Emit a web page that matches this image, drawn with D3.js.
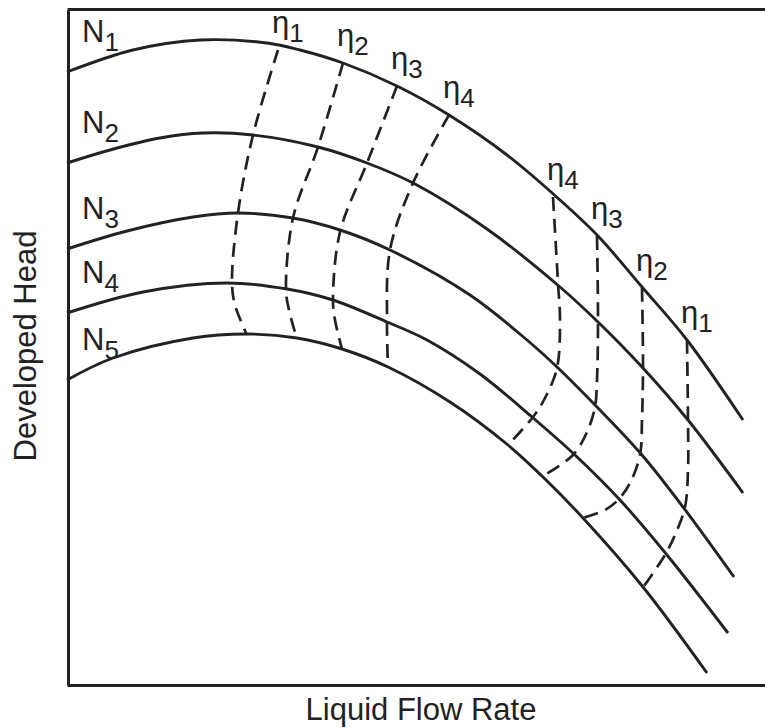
<!DOCTYPE html>
<html>
<head>
<meta charset="utf-8">
<title>Developed head vs liquid flow rate</title>
<style>
  body { margin: 0; background: #fff; }
  svg { display: block; font-family: "Liberation Sans", Arial, sans-serif; }
  .frame path { stroke: #222; stroke-width: 3; }
  .speed { fill: none; stroke: #222; stroke-width: 2.9; }
  .eff { fill: none; stroke: #222; stroke-width: 2.7; stroke-dasharray: 14, 8; }
  .lbl { fill: #222; font-size: 31px; }
  .lbl .sub { font-size: 26px; }
</style>
<script src="https://d3js.org/d3.v7.min.js"></script>
</head>
<body>
<script>
// head curves at five speeds, [flow, head]
const curveN1 = [[0,613],[66,635],[133,645],[200,642],[233,635],[276,622],[330,599],[382,570],[440,530],[493,485],[531,449],[575,398],[620,345],[676,265]];
const curveN2 = [[0,522],[43,535],[93,547],[136,552],[186,550],[251,538],[300,522],[348,501],[420,456],[493,398],[531,363],[575,318],[621,265],[676,192]];
const curveN3 = [[0,436],[60,454],[126,468],[171,472],[226,467],[273,455],[323,435],[403,390],[460,345],[490,318],[530,278],[575,230],[616,178],[667,108]];
const curveN4 = [[0,372],[76,393],[160,402],[220,396],[266,385],[320,363],[360,345],[413,311],[465,268],[508,230],[553,185],[600,130],[661,52]];
const curveN5 = [[0,305],[46,327],[126,347],[180,351],[230,347],[275,336],[321,318],[383,283],[441,240],[476,208],[516,167],[576,98],[640,12]];
const speedCurves = [curveN1, curveN2, curveN3, curveN4, curveN5];
const speedNames = ["1", "2", "3", "4", "5"];

// constant efficiency lines, low-flow side and high-flow side
const effLeft1 = [[211,635],[186,550],[171,472],[165,402],[168,380],[180,350]];
const effLeft2 = [[276,622],[251,538],[226,467],[219,395],[222,375],[230,346]];
const effLeft3 = [[330,599],[300,522],[273,453],[266,385],[268,365],[275,336]];
const effLeft4 = [[382,570],[346,502],[323,435],[320,363],[321,318]];
const effRight4 = [[486,488],[491,402],[493,365],[490,317],[478,287],[466,268],[441,240]];
const effRight3 = [[530,449],[531,363],[530,305],[528,278],[520,253],[506,230],[476,209]];
const effRight2 = [[575,397],[576,317],[575,265],[573,230],[563,202],[551,185],[538,175],[516,167]];
const effRight1 = [[620,345],[621,265],[621,215],[618,178],[608,150],[598,130],[577,99]];
const effLines = [effLeft1, effLeft2, effLeft3, effLeft4, effRight4, effRight3, effRight2, effRight1];
const effNames = ["1", "2", "3", "4", "4", "3", "2", "1"];

const width = 765, height = 728;
const margin = { top: 10, right: 0, bottom: 43, left: 67 };

const x = d3.scaleLinear().domain([0, 698]).range([margin.left, width - margin.right]);
const y = d3.scaleLinear().domain([0, 675]).range([height - margin.bottom, margin.top]);

const svg = d3.select("body").append("svg")
  .attr("width", width)
  .attr("height", height);

// frame: left, top and bottom axes with no ticks
svg.append("g").attr("class", "frame")
  .attr("transform", "translate(0," + y(0) + ")")
  .call(d3.axisBottom(x).tickValues([]).tickSizeOuter(0));
svg.append("g").attr("class", "frame")
  .attr("transform", "translate(0," + (y(675) - 1) + ")")
  .call(d3.axisTop(x).tickValues([]).tickSizeOuter(0));
svg.append("g").attr("class", "frame")
  .attr("transform", "translate(" + (x(0) + 1) + ",0)")
  .call(d3.axisLeft(y).tickValues([]).tickSizeOuter(0));

const line = d3.line()
  .x(d => x(d[0]))
  .y(d => y(d[1]))
  .curve(d3.curveCatmullRom.alpha(0.5));

svg.selectAll(".speed")
  .data(speedCurves)
  .join("path")
  .attr("class", "speed")
  .attr("d", line);

svg.selectAll(".eff")
  .data(effLines)
  .join("path")
  .attr("class", "eff")
  .attr("d", line);

function label(sel, base, sub) {
  sel.append("tspan").text(base);
  sel.append("tspan").attr("class", "sub").attr("dy", 9).text(sub);
}

// N labels sit above the start of each curve
speedCurves.forEach(function (c, i) {
  svg.append("text")
    .attr("class", "lbl")
    .attr("x", x(c[0][0]) + 15)
    .attr("y", y(c[0][1]) - 30)
    .call(label, "N", speedNames[i]);
});

// eta labels sit above the top of each dashed line
effLines.forEach(function (c, i) {
  svg.append("text")
    .attr("class", "lbl")
    .attr("x", x(c[0][0]) - 6)
    .attr("y", y(c[0][1]) - 17)
    .call(label, "\u03b7", effNames[i]);
});

svg.append("text")
  .attr("class", "lbl")
  .attr("text-anchor", "middle")
  .attr("x", 421)
  .attr("y", 720)
  .text("Liquid Flow Rate");

svg.append("text")
  .attr("class", "lbl")
  .attr("text-anchor", "middle")
  .attr("transform", "translate(36,346)rotate(-90)")
  .text("Developed Head");
</script>
</body>
</html>
